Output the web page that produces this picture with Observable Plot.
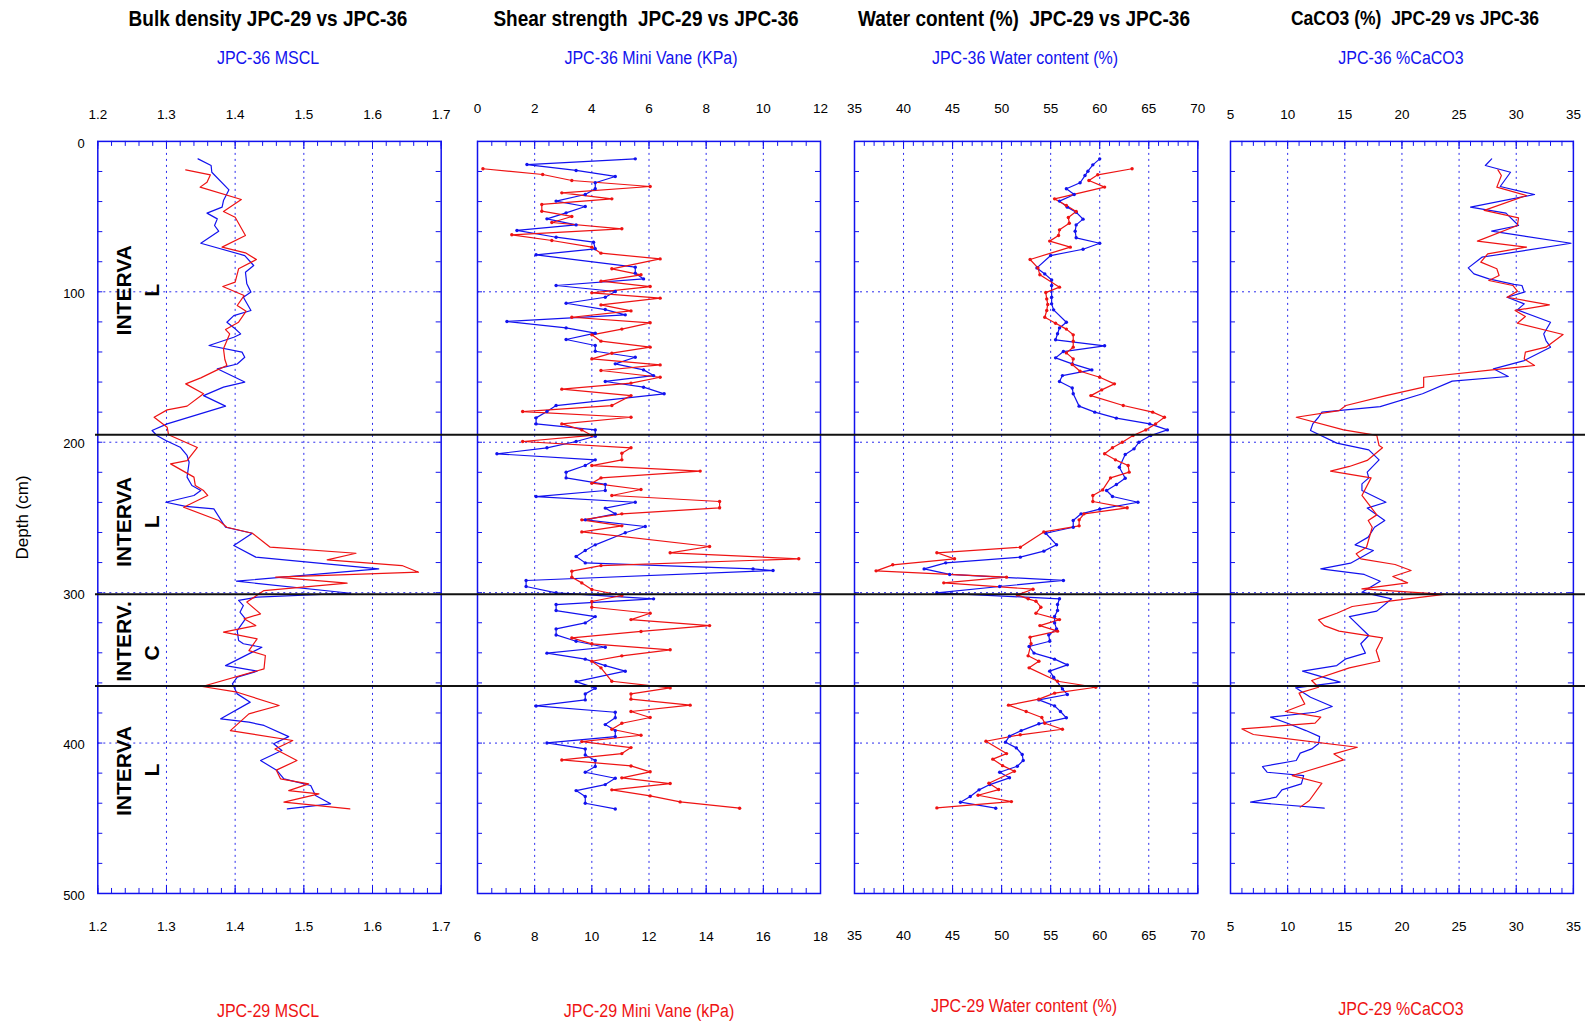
<!DOCTYPE html>
<html><head><meta charset="utf-8">
<script src="https://cdn.jsdelivr.net/npm/d3@7"></script>
<script src="https://cdn.jsdelivr.net/npm/@observablehq/plot@0.6"></script>
<style>
body{margin:0;background:#fff;}
#root{position:relative;width:1593px;height:1022px;overflow:hidden;font-family:"Liberation Sans",Arial,sans-serif;}
.lbl{position:absolute;white-space:pre;transform:translate(-50%,-50%) scaleY(1.15);line-height:1;}
.title{font-weight:bold;font-size:19px;color:#000;}
.sub{font-size:16px;}
.pl{position:absolute;top:0;}
</style></head><body><div id="root"></div>
<script>
// ---------------- data: [depth (cm), value] ----------------
const bulk36 = [[11.6,1.346],[16,1.365],[20.5,1.366],[32.2,1.391],[39.3,1.383],[43.7,1.381],[47.7,1.359],[51.5,1.374],[55.9,1.370],[59.7,1.376],[67.7,1.350],[75.9,1.414],[82.5,1.427],[87,1.415],[94.7,1.417],[100.2,1.423],[103.6,1.412],[112.4,1.423],[115.8,1.398],[120.2,1.388],[124.6,1.400],[128,1.408],[130.2,1.398],[135.7,1.362],[140.1,1.410],[143.5,1.414],[148,1.403],[151.2,1.374],[160,1.414],[163.4,1.383],[169,1.354],[176,1.386],[187.8,1.301],[192.2,1.279],[195.5,1.286],[198.8,1.299],[203.3,1.320],[208.8,1.330],[213.3,1.333],[223.2,1.330],[228.8,1.337],[232.1,1.350],[235.4,1.340],[239.9,1.299],[242.7,1.328],[244.3,1.369],[256.5,1.386],[260.5,1.425],[268.7,1.398],[276.4,1.430],[284.2,1.609],[292.4,1.402],[300.4,1.568],[303,1.432],[305.2,1.405],[308.6,1.412],[313,1.407],[317.4,1.415],[325.2,1.403],[331.8,1.405],[334,1.412],[336.3,1.439],[348.5,1.386],[352.2,1.432],[356.2,1.403],[360.6,1.396],[367.3,1.403],[372.8,1.422],[383.9,1.379],[386.1,1.420],[388.3,1.442],[395.7,1.478],[400.5,1.456],[405,1.468],[411.6,1.437],[418.3,1.461],[423.8,1.471],[428.2,1.510],[434.9,1.517],[440.4,1.539],[443.8,1.476]];
const bulk29 = [[18.9,1.328],[22.2,1.364],[27.1,1.359],[30.4,1.349],[38.6,1.409],[46.6,1.383],[50.4,1.400],[62.6,1.415],[70.3,1.381],[74.1,1.415],[78.5,1.431],[84.7,1.405],[93.6,1.400],[96.5,1.382],[102.5,1.413],[109.1,1.403],[112.9,1.416],[120.2,1.405],[125.1,1.386],[128,1.392],[137.9,1.383],[145,1.385],[149,1.388],[151.9,1.374],[157.2,1.350],[161.2,1.328],[167.8,1.354],[176,1.330],[178.5,1.301],[183.4,1.282],[190,1.301],[195,1.303],[203.5,1.345],[212.2,1.330],[214.4,1.306],[223.2,1.340],[228.8,1.342],[232.1,1.354],[235.4,1.360],[243.2,1.325],[252,1.376],[256.5,1.388],[260.5,1.425],[269.8,1.451],[273.8,1.576],[278.2,1.534],[282,1.643],[286.4,1.667],[289.7,1.459],[293.7,1.563],[298.6,1.442],[306.3,1.417],[314.1,1.437],[317.4,1.413],[321.9,1.430],[326.3,1.383],[330.7,1.432],[338.5,1.420],[341.8,1.444],[350.7,1.442],[362.4,1.352],[366.2,1.403],[375,1.464],[380.6,1.420],[391.7,1.393],[398.3,1.484],[404,1.458],[411.6,1.490],[418,1.460],[423.8,1.466],[427.1,1.507],[431.6,1.478],[433.8,1.522],[439.3,1.471],[443.8,1.567]];

const shear36 = [[11.6,5.52],[15.4,1.73],[19.3,3.45],[23.3,4.82],[27.5,4.12],[31.5,4.12],[35.3,3.77],[39.7,2.75],[43.3,3.77],[47.5,3.10],[51.5,2.43],[55.5,3.45],[59.2,1.38],[63.7,2.75],[67,4.06],[71.4,4.12],[75.4,2.05],[83.6,5.52],[87.6,5.52],[91.4,5.81],[95.8,2.75],[99.8,4.82],[103.6,4.47],[107.6,3.10],[111.8,4.47],[115.3,5.17],[119.7,1.03],[124,3.10],[127.5,4.12],[131.7,3.10],[135.7,4.12],[139.5,4.12],[143.5,5.52],[147.9,4.82],[151.9,5.81],[155.7,6.16],[159.6,4.47],[163.4,5.81],[167.8,6.53],[175.6,2.75],[179.6,2.43],[183.8,2.05],[187.8,2.05],[191.8,4.12],[196,4.12],[199.5,3.45],[203.7,2.43],[207.7,0.68],[211.7,4.12],[215.5,3.77],[219.9,3.10],[223.7,3.10],[228,4.47],[232.1,4.47],[236.1,2.05],[239.9,5.52],[243.8,4.47],[247.6,4.82],[251.6,3.77],[256,5.87],[260.2,5.17],[268.2,4.12],[272,3.77],[276,3.45],[280.2,3.77],[284.2,9.64],[285.3,10.34],[291.9,1.70],[295.9,1.70],[300.1,2.75],[304.1,6.16],[307.9,2.75],[311.9,2.75],[315.9,4.12],[320.1,3.77],[324.1,2.75],[328.1,2.75],[332.3,3.45],[336.3,4.47],[340.2,2.43],[344.2,3.77],[348.5,4.47],[352.2,5.17],[359.1,3.45],[363.5,4.12],[367.3,3.77],[371.3,3.77],[375.3,2.05],[379.5,4.82],[383.2,4.82],[387.7,4.47],[391.7,4.82],[395.7,4.82],[399.9,2.43],[403.9,3.77],[407.9,3.77],[411.6,4.12],[415.6,4.12],[419.4,3.77],[423.4,4.82],[427.6,4.47],[431.6,3.45],[435.5,3.77],[440,3.77],[443.8,4.82]];
// JPC-29 read on the bottom axis (6-18 kPa)
const shear29 = [[18.2,6.19],[22,8.28],[26,9.30],[30,12.04],[34.2,8.95],[38.2,10.70],[41.9,8.25],[46.4,8.25],[49.9,9.30],[53.9,8.60],[58.1,11.05],[62.1,7.20],[65.9,8.60],[70.3,10.00],[74.3,10.32],[78.1,12.39],[84.7,10.70],[88.7,11.72],[92.9,10.32],[96.5,12.04],[100.7,10.00],[104.2,12.39],[108.7,10.32],[112.7,11.37],[116.9,9.30],[120.6,12.04],[124.8,11.05],[128.6,10.00],[132.8,10.32],[136.8,12.04],[140.8,10.70],[144.6,10.00],[148.6,12.39],[152.3,10.32],[156.8,12.39],[160.7,11.37],[164.7,8.95],[169,11.37],[175.6,10.70],[179.6,7.58],[183.4,11.37],[187.8,8.95],[191.8,9.65],[195.5,10.00],[199.5,7.58],[203.7,11.37],[207.3,11.05],[211.7,11.05],[215.5,10.00],[219.2,13.79],[223.7,10.32],[227.2,10.00],[231.4,11.72],[235.4,10.70],[239.4,14.47],[243.6,14.47],[247.6,11.05],[251.6,9.65],[255.6,11.05],[259.6,9.65],[269.3,14.12],[273.5,12.74],[277.5,17.24],[282,10.32],[285.7,9.30],[289.7,9.30],[293.5,9.65],[297.9,10.00],[301.9,11.05],[305.9,10.00],[309.7,10.00],[313.7,12.04],[317.9,11.37],[321.9,14.12],[325.8,11.72],[330.1,9.30],[334,10.00],[338,12.74],[342,11.05],[345.6,10.00],[350,10.32],[358.9,10.70],[363.3,12.74],[367.3,11.37],[370.8,11.37],[374.8,13.44],[379,11.37],[383,12.04],[386.8,11.05],[390.8,10.70],[394.8,11.72],[399,9.65],[403,11.37],[407,11.05],[411.2,8.95],[415.2,11.37],[419.1,12.04],[423.1,11.05],[426.9,12.74],[431.1,10.70],[435.1,12.04],[439.1,13.09],[443.3,15.17]];

const water36 = [[11.6,60.0],[15.6,59.3],[19.8,58.8],[22.7,58.5],[27.5,58.0],[31.5,56.6],[35.3,57.4],[39.7,55.9],[43.7,56.7],[47.1,57.6],[51.7,58.3],[55.5,57.6],[59.7,57.5],[64.1,57.6],[67.7,60.0],[71.7,58.3],[75.9,55.0],[84.1,53.6],[88.1,54.4],[92.1,55.1],[95.8,55.1],[103.6,55.1],[108,55.1],[112,55.3],[120.2,56.6],[124,55.9],[127.9,55.7],[131.9,55.5],[135.9,60.5],[139.7,56.3],[143.9,55.5],[147.9,57.2],[151.9,59.2],[155.7,56.2],[159.6,55.9],[163.9,57.2],[167.8,57.3],[176,57.9],[180,59.5],[184,61.7],[187.8,65.1],[191.8,66.9],[195.5,65.2],[200,64.0],[204.4,63.5],[208.2,62.6],[216.6,62.0],[223.9,62.6],[228.1,61.7],[232.1,60.7],[236.1,61.3],[239.9,63.9],[244.5,60.0],[247.6,58.1],[252,57.3],[256.5,57.3],[260.5,54.5],[268.2,55.6],[272.4,54.3],[276.4,51.9],[280.2,44.3],[284.2,42.1],[287.9,44.7],[291.9,56.3],[295.9,49.8],[300.1,43.4],[304.1,55.9],[307.9,55.7],[311.9,55.7],[315.9,55.4],[320.1,55.4],[324.1,55.6],[328.1,54.8],[332.3,54.9],[335.8,52.8],[340.2,53.3],[344.2,55.4],[348,56.7],[352.2,54.9],[356.2,55.3],[364,56.2],[367.7,56.7],[371.3,53.8],[375.3,55.4],[379,56.0],[383.2,56.6],[387.2,53.8],[391.7,52.0],[395.4,50.8],[399.4,50.4],[403.2,51.5],[407.6,52.1],[411.6,52.2],[415.4,51.6],[419.4,49.8],[423.1,50.8],[427.6,48.8],[431.1,47.7],[435.5,46.8],[439.3,45.8],[443.3,49.4]];
const water29 = [[18.2,63.3],[22.2,59.8],[26,58.9],[30.4,60.5],[38.2,55.4],[42.6,56.6],[46.6,57.6],[50.6,56.8],[54.4,56.9],[58.8,55.9],[62.6,55.8],[66.3,54.9],[70.3,57.0],[78.5,52.9],[84.1,53.7],[88.7,53.9],[96.9,55.9],[100.5,54.5],[104.7,54.6],[108.4,54.7],[112.4,54.6],[116.9,54.4],[120.9,55.5],[124.8,56.6],[128.6,57.3],[132.8,57.3],[136.8,57.3],[140.6,56.6],[144.6,57.3],[148.3,57.2],[152.8,58.0],[156.8,60.0],[161.2,61.5],[165.2,60.2],[169,59.1],[175.6,62.4],[180,65.4],[183.4,66.6],[187.8,65.7],[191.8,64.7],[195.5,63.4],[200,62.3],[203.7,61.3],[207.7,60.5],[211.7,61.6],[215.5,62.9],[219.9,63.0],[223.7,61.1],[231.7,60.3],[235.4,59.3],[239.4,59.3],[243.6,62.8],[247.6,58.4],[251.6,57.9],[255.6,57.9],[259.6,54.3],[269.8,51.9],[273.5,43.4],[277.5,45.2],[281.5,38.9],[285.5,37.2],[289.7,50.5],[293.5,44.1],[297.7,53.2],[301.5,51.6],[304.1,52.7],[305.7,53.5],[309.7,54.0],[313.7,53.5],[317.9,55.9],[321.9,53.9],[325.6,55.7],[329.6,52.9],[334,53.0],[342,52.7],[345.6,53.8],[350,52.8],[358.9,55.7],[362.9,59.6],[366.8,55.4],[370.8,53.8],[374.8,50.7],[379,52.5],[383,54.1],[386.8,54.4],[390.8,56.2],[394.5,51.9],[398.8,48.4],[407,50.5],[410.7,49.1],[415,50.1],[418.7,51.3],[426.7,48.7],[430.9,49.7],[434.7,47.6],[438.9,51.0],[443.1,43.4]];

const caco36 = [[11.6,27.85],[16,27.3],[20.5,29.5],[30,28.6],[35.3,31.6],[43.7,26.0],[47.7,29.1],[55.9,30.2],[59.7,27.85],[67.7,34.8],[77,27.0],[84.1,25.8],[88.1,26.3],[91.4,27.6],[95.1,29.8],[95.8,30.5],[100.2,30.7],[103.6,29.2],[108,30.7],[112,30.1],[120.2,33.0],[128,32.4],[132.4,32.6],[136.8,33.0],[145.7,30.7],[151.2,28.0],[156.3,29.3],[159.4,24.4],[167.8,21.8],[176.3,18.1],[180,13.0],[183.4,12.7],[187.8,12.2],[192.2,12.0],[200.6,14.3],[205.1,17.1],[211.7,18.0],[219.9,16.96],[223.7,17.1],[227.7,16.5],[232.1,16.5],[239.9,18.6],[243.8,16.96],[252,18.5],[256.5,17.6],[263.1,17.05],[268.2,15.9],[272,17.5],[280.4,15.5],[284.2,12.9],[287.9,16.7],[292.4,18.1],[299.7,16.5],[304.1,19.1],[312.3,17.8],[315.9,15.4],[328.5,17.1],[334,16.4],[340.2,16.8],[344,15.1],[348.5,14.3],[352.2,11.3],[359.5,14.6],[363.3,10.7],[369.5,12.0],[375.7,13.9],[379.5,12.4],[382.8,8.5],[387.2,10.1],[391.7,11.6],[395.7,12.8],[400.5,12.7],[403.9,12.1],[406.7,11.1],[411.6,10.75],[415.6,7.8],[419.4,8.2],[421.6,11.4],[427.1,11.2],[431.1,9.5],[436,9.0],[439.3,6.75],[443.3,13.2]];
const caco29 = [[18.9,28.4],[22.7,28.7],[30.4,28.3],[36,30.9],[45.9,27.2],[50.8,30.2],[55.9,30.1],[66.3,26.6],[70.3,30.9],[74.8,27.5],[80.3,26.9],[84.7,28.3],[89.2,28.5],[92.5,27.6],[95.8,29.7],[99.6,30.1],[103.6,29.2],[108.7,32.9],[112.4,29.9],[116.4,30.8],[120.9,30.1],[128.4,34.1],[136.8,32.6],[140.1,30.8],[144.6,30.7],[149,31.6],[151.9,27.9],[156.8,21.9],[163.4,21.9],[169,18.6],[175.6,15.1],[179,14.5],[183.4,10.75],[191.8,14.9],[195.5,17.8],[202.2,18.0],[203.7,18.3],[212.1,16.96],[216.1,15.4],[219.2,13.75],[223.7,17.3],[235.4,16.5],[248.3,17.8],[252,17.05],[256.5,17.4],[269.8,16.9],[274.2,16.0],[277.5,16.4],[281.3,19.4],[285.3,20.8],[289.3,19.2],[293.5,20.5],[297.5,16.5],[301.2,23.7],[305.7,18.9],[309.2,15.65],[313.7,14.3],[318.1,12.7],[321.9,13.2],[325.6,14.5],[330.1,18.3],[338.5,17.75],[345.6,18.05],[350,15.4],[358.4,12.1],[362.9,12.7],[366.8,11.0],[374,11.5],[379,9.8],[382.8,12.9],[386.8,12.4],[390.6,6.0],[394.3,7.0],[402.8,16.1],[407.2,14.05],[411.2,14.9],[421.6,10.4],[426.7,13.0],[438.2,11.9],[442.6,11.1]];

// ---------------- text / ticks ----------------
const titles = ["Bulk density JPC-29 vs JPC-36", "Shear strength  JPC-29 vs JPC-36", "Water content (%)  JPC-29 vs JPC-36", "CaCO3 (%)  JPC-29 vs JPC-36"];
const topLabels = ["JPC-36 MSCL", "JPC-36 Mini Vane (KPa)", "JPC-36 Water content (%)", "JPC-36 %CaCO3"];
const bottomLabels = ["JPC-29 MSCL", "JPC-29 Mini Vane (kPa)", "JPC-29 Water content (%)", "JPC-29 %CaCO3"];
const depthLabels = [0, 100, 200, 300, 400, 500];
const depthGrid = [100, 200, 300, 400];
const depthMinor = d3.range(20, 500, 20);
const boundaries = [195, 301, 362];
const intervalNames = ["INTERVA", "INTERVA", "INTERV.", "INTERVA"];
const intervalNameDepth = [99, 253, 332.5, 418.5];
const intervalLetters = ["L", "L", "C", "L"];
const intervalLetterDepth = [99, 253, 340, 418];

// ---------------- layout ----------------
const PAGE_W = 1593, PAGE_H = 1022, TOP = 140.9, BOTTOM = 893;
const FH = BOTTOM - TOP;
const BLUE = "#1212ee", RED = "#ee1313", GRID = "#2a2aee", FONT = "'Liberation Sans', Arial, sans-serif";
const f1 = d3.format(".1f");

const panels = [
  {x0: 97.3, x1: 440.7, mL: 97.3, domain: [1.2, 1.7], major: d3.range(0, 6).map(i => 1.2 + i * 0.1), minor: d3.range(0, 26).map(i => 1.2 + i * 0.02),
   topFmt: f1, botFmt: f1, shift: 0, s36: bulk36, s29: bulk29, dots: false, topDy: -32, botDy: 38,
   titleX: 268, subX: 268, botX: 268, botY: 1011, titleSize: 19},
  {x0: 477.3, x1: 820.3, mL: 12, domain: [0, 12], major: d3.range(0, 13, 2), minor: d3.range(0, 24.5, 1).map(i => i * 0.5),
   topFmt: d => String(d), botFmt: d => String(d + 6), shift: 6, s36: shear36, s29: shear29, dots: true, topDy: -38, botDy: 47,
   titleX: 646, subX: 651, botX: 649, botY: 1011, titleSize: 19},
  {x0: 853.5, x1: 1196.8, mL: 12, domain: [35, 70], major: d3.range(35, 71, 5), minor: d3.range(35, 71, 1),
   topFmt: d => String(d), botFmt: d => String(d), shift: 0, s36: water36, s29: water29, dots: true, topDy: -38, botDy: 47,
   titleX: 1024, subX: 1025, botX: 1024, botY: 1006, titleSize: 19},
  {x0: 1230.3, x1: 1573.2, mL: 12, domain: [5, 35], major: d3.range(5, 36, 5), minor: d3.range(5, 36, 1),
   topFmt: d => String(d), botFmt: d => String(d), shift: 0, s36: caco36, s29: caco29, dots: false, topDy: -32, botDy: 38,
   titleX: 1415, subX: 1401, botX: 1401, botY: 1009, titleSize: 17.5}
];

const root = document.getElementById("root");

panels.forEach((p, i) => {
  const mR = 12;
  const W = p.x1 - p.x0;
  const grid = p.major.slice(1, -1);
  const marks = [
    Plot.ruleX(grid, {x: d => d, stroke: GRID, strokeWidth: 1, strokeDasharray: "2,4"}),
    Plot.ruleY(depthGrid, {y: d => d, stroke: GRID, strokeWidth: 1, strokeDasharray: "2,4"}),
    Plot.tickX(p.minor, {x: d => d, insetBottom: FH - 5, stroke: BLUE}),
    Plot.tickX(p.major, {x: d => d, insetBottom: FH - 8, stroke: BLUE}),
    Plot.tickX(p.minor, {x: d => d, insetTop: FH - 5, stroke: BLUE}),
    Plot.tickX(p.major, {x: d => d, insetTop: FH - 8, stroke: BLUE}),
    Plot.tickY(depthMinor, {y: d => d, insetRight: W - 5, stroke: BLUE}),
    Plot.tickY(depthMinor, {y: d => d, insetLeft: W - 5, stroke: BLUE}),
    Plot.frame({stroke: BLUE, strokeWidth: 1.5}),
    Plot.line(p.s36, {x: d => d[1], y: d => d[0], stroke: BLUE, strokeWidth: 1.2}),
    Plot.line(p.s29, {x: d => d[1] - p.shift, y: d => d[0], stroke: RED, strokeWidth: 1.2}),
    Plot.text(p.major, {x: d => d, frameAnchor: "top", dy: p.topDy, text: p.topFmt, fontSize: 13.5, fill: "#000"}),
    Plot.text(p.major, {x: d => d, frameAnchor: "bottom", dy: p.botDy, text: p.botFmt, fontSize: 13.5, fill: "#000"})
  ];
  if (p.dots) {
    marks.push(Plot.dot(p.s36, {x: d => d[1], y: d => d[0], r: 1.7, fill: BLUE, stroke: null}));
    marks.push(Plot.dot(p.s29, {x: d => d[1] - p.shift, y: d => d[0], r: 1.7, fill: RED, stroke: null}));
  }
  if (i === 0) {
    marks.push(Plot.text(depthLabels, {y: d => d, frameAnchor: "left", dx: -13, dy: 2, textAnchor: "end", text: d => String(d), fontSize: 13, fill: "#000"}));
    marks.push(Plot.text(["Depth (cm)"], {frameAnchor: "left", dx: -75, textAnchor: "middle", rotate: -90, fontSize: 17, fill: "#000"}));
    const names = intervalNames.map((t, k) => ({t, d: intervalNameDepth[k]}));
    const letters = intervalLetters.map((t, k) => ({t, d: intervalLetterDepth[k]}));
    marks.push(Plot.text(names, {y: "d", text: "t", frameAnchor: "left", dx: 26.7, textAnchor: "middle", rotate: -90, fontSize: 21, fontWeight: "bold", fill: "#000"}));
    marks.push(Plot.text(letters, {y: "d", text: "t", frameAnchor: "left", dx: 54.3, textAnchor: "middle", rotate: -90, fontSize: 21, fontWeight: "bold", fill: "#000"}));
  }
  const chart = Plot.plot({
    width: W + p.mL + mR, height: PAGE_H,
    marginTop: TOP, marginBottom: PAGE_H - BOTTOM, marginLeft: p.mL, marginRight: mR,
    x: {domain: p.domain, axis: null},
    y: {domain: [0, 500], reverse: true, axis: null},
    style: {fontFamily: FONT, fontSize: "13px", background: "transparent", overflow: "visible"},
    marks
  });
  const wrap = document.createElement("div");
  wrap.className = "pl";
  wrap.style.left = (p.x0 - p.mL) + "px";
  wrap.appendChild(chart);
  root.appendChild(wrap);

  const t = document.createElement("div");
  t.className = "lbl title"; t.textContent = titles[i];
  t.style.left = p.titleX + "px"; t.style.top = "19px"; t.style.fontSize = p.titleSize + "px";
  root.appendChild(t);
  const s = document.createElement("div");
  s.className = "lbl sub"; s.textContent = topLabels[i];
  s.style.left = p.subX + "px"; s.style.top = "58px"; s.style.color = BLUE;
  root.appendChild(s);
  const b = document.createElement("div");
  b.className = "lbl sub"; b.textContent = bottomLabels[i];
  b.style.left = p.botX + "px"; b.style.top = p.botY + "px"; b.style.color = RED;
  root.appendChild(b);
});

// interval boundaries across all panels
const overlay = Plot.plot({
  width: PAGE_W, height: PAGE_H,
  marginTop: TOP, marginBottom: PAGE_H - BOTTOM, marginLeft: 95, marginRight: 8,
  x: {domain: [0, 1], axis: null},
  y: {domain: [0, 500], reverse: true, axis: null},
  style: {background: "transparent", overflow: "visible"},
  marks: [Plot.ruleY(boundaries, {y: d => d, stroke: "#111", strokeWidth: 2})]
});
const ow = document.createElement("div");
ow.className = "pl"; ow.style.left = "0px"; ow.style.pointerEvents = "none";
ow.appendChild(overlay);
root.appendChild(ow);
</script>
</body></html>
